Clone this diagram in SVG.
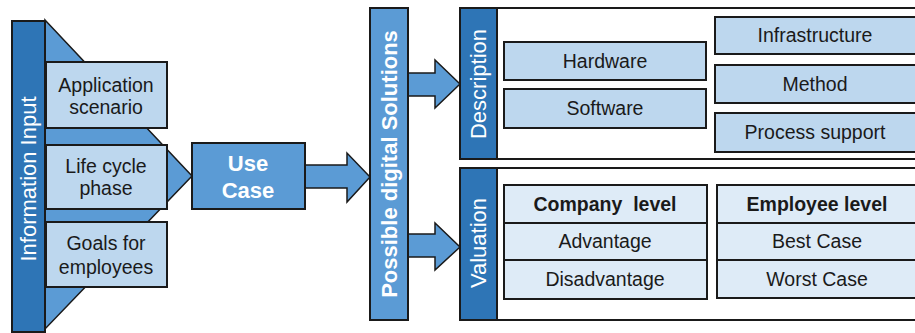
<svg xmlns="http://www.w3.org/2000/svg" width="915" height="333" viewBox="0 0 915 333">
  <style>
    .box { fill: #bdd7ee; stroke: #1a1a1a; stroke-width: 2; }
    .cell { fill: #deebf7; stroke: #1a1a1a; stroke-width: 2; }
    .dark { fill: #2e75b6; stroke: #1a1a1a; stroke-width: 2; }
    .mid { fill: #5b9bd5; stroke: #1a1a1a; stroke-width: 2; }
    .panel { fill: #ffffff; stroke: #1a1a1a; stroke-width: 2; }
    .arrow { fill: #5b9bd5; stroke: #1a1a1a; stroke-width: 1.5; stroke-linejoin: miter; }
    .t { font-family: "Liberation Sans", Arial, sans-serif; font-size: 19.5px; fill: #1a1a1a; text-anchor: middle; }
    .tb { font-family: "Liberation Sans", Arial, sans-serif; font-size: 19.5px; font-weight: bold; fill: #1a1a1a; text-anchor: middle; }
    .w { font-family: "Liberation Sans", Arial, sans-serif; font-size: 22px; fill: #ffffff; text-anchor: middle; }
    .wb { font-family: "Liberation Sans", Arial, sans-serif; font-size: 22px; font-weight: bold; fill: #ffffff; text-anchor: middle; }
  </style>

  <g id="connectors">
    <!-- funnel gathering the inputs towards the use case -->
    <polygon class="arrow" points="45,20 192,176 45,329"/>
    <!-- use case to solutions -->
    <polygon class="arrow" points="305,165 347,165 347,153 370,177 347,202 347,188 305,188"/>
    <!-- solutions to description -->
    <polygon class="arrow" points="408,73 435,73 435,60 460,84 435,108 435,96 408,96"/>
    <!-- solutions to valuation -->
    <polygon class="arrow" points="408,234 435,234 435,223 460,247 435,270 435,257 408,257"/>
  </g>

  <g id="information-input">
    <rect class="dark" x="12" y="21" width="33" height="311"/>
    <text class="w" transform="translate(36,179) rotate(-90)">Information Input</text>
  </g>

  <g id="application-scenario">
    <rect class="box" x="46" y="62" width="121" height="66"/>
    <text class="t" x="106" y="92">Application</text>
    <text class="t" x="106" y="114">scenario</text>
  </g>

  <g id="life-cycle-phase">
    <rect class="box" x="46" y="145" width="121" height="64"/>
    <text class="t" x="106" y="173">Life cycle</text>
    <text class="t" x="106" y="195">phase</text>
  </g>

  <g id="goals-for-employees">
    <rect class="box" x="46" y="222" width="121" height="65"/>
    <text class="t" x="106" y="250">Goals for</text>
    <text class="t" x="106" y="274">employees</text>
  </g>

  <g id="use-case">
    <rect class="mid" x="192" y="143" width="113" height="66"/>
    <text class="wb" x="248" y="171">Use</text>
    <text class="wb" x="248" y="198">Case</text>
  </g>

  <g id="possible-solutions">
    <rect class="mid" x="370" y="8" width="38" height="312"/>
    <text class="wb" transform="translate(397,164) rotate(-90)">Possible digital Solutions</text>
  </g>

  <g id="description">
    <rect class="panel" x="460" y="8" width="470" height="151"/>
    <rect class="dark" x="460" y="8" width="37" height="151"/>
    <text class="w" transform="translate(486,84) rotate(-90)">Description</text>
    <rect class="box" x="504" y="42" width="202" height="38"/>
    <text class="t" x="605" y="68">Hardware</text>
    <rect class="box" x="504" y="89" width="202" height="39"/>
    <text class="t" x="605" y="115">Software</text>
    <rect class="box" x="715" y="17" width="215" height="37"/>
    <text class="t" x="815" y="42">Infrastructure</text>
    <rect class="box" x="715" y="65" width="215" height="38"/>
    <text class="t" x="815" y="91">Method</text>
    <rect class="box" x="715" y="113" width="215" height="39"/>
    <text class="t" x="815" y="139">Process support</text>
  </g>

  <g id="valuation">
    <rect class="panel" x="460" y="168" width="470" height="152"/>
    <rect class="dark" x="460" y="168" width="37" height="152"/>
    <text class="w" transform="translate(486,243) rotate(-90)">Valuation</text>
    <rect class="cell" x="504" y="185" width="203" height="38"/>
    <text class="tb" x="605" y="211">Company&#160; level</text>
    <rect class="cell" x="504" y="223" width="203" height="37"/>
    <text class="t" x="605" y="248">Advantage</text>
    <rect class="cell" x="504" y="260" width="203" height="39"/>
    <text class="t" x="605" y="286">Disadvantage</text>
    <rect class="cell" x="717" y="185" width="213" height="38"/>
    <text class="tb" x="817" y="211">Employee level</text>
    <rect class="cell" x="717" y="223" width="213" height="37"/>
    <text class="t" x="817" y="248">Best Case</text>
    <rect class="cell" x="717" y="260" width="213" height="38"/>
    <text class="t" x="817" y="286">Worst Case</text>
  </g>
</svg>
